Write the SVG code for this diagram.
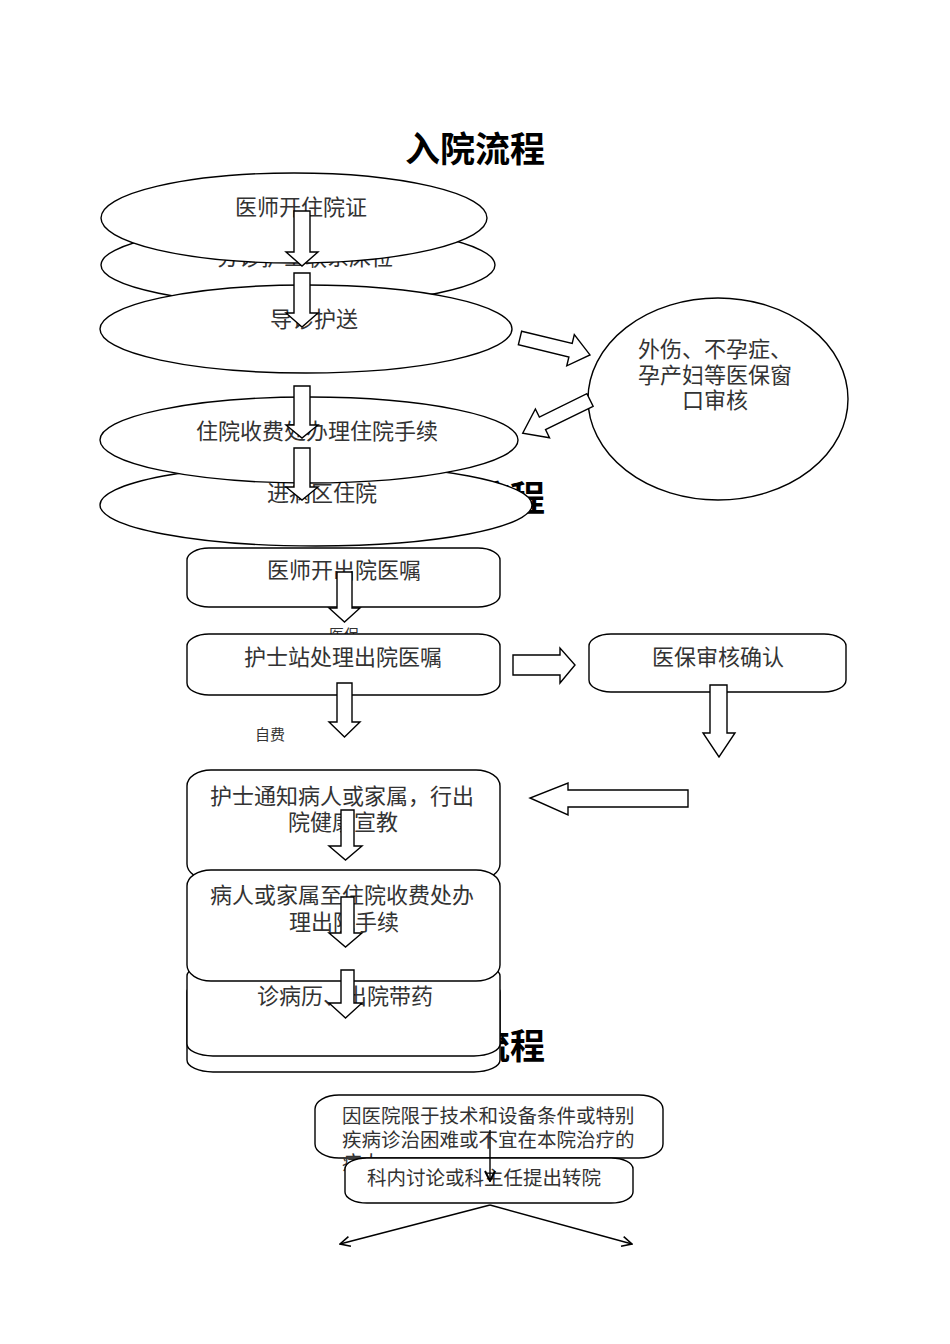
<svg xmlns="http://www.w3.org/2000/svg" width="950" height="1344" viewBox="0 0 950 1344">
<defs>
<style>
.bg{fill:#fff}
.sh{fill:#fff;stroke:#000;stroke-width:1.4}
.ar{fill:#fff;stroke:#000;stroke-width:1.4;stroke-linejoin:miter}
.ln{fill:none;stroke:#000;stroke-width:1.4}
.t{font-family:"Noto Sans CJK SC","Noto Sans",sans-serif;font-size:22px;fill:#333;text-anchor:middle;dominant-baseline:central}
.ts{font-size:19.5px}
.tl{text-anchor:start}
.tn{font-size:15px}
.title{font-family:"Noto Sans CJK SC","Noto Sans",sans-serif;font-size:35px;font-weight:bold;fill:#000;text-anchor:middle;dominant-baseline:central}
</style>
<marker id="chev" viewBox="0 0 12 12" refX="11" refY="6" markerWidth="12" markerHeight="12" markerUnits="userSpaceOnUse" orient="auto">
<path d="M1,1 L11,6 L1,11" fill="none" stroke="#000" stroke-width="1.6"/>
</marker>
<marker id="vee" viewBox="0 0 12 12" refX="11" refY="6" markerWidth="12" markerHeight="12" markerUnits="userSpaceOnUse" orient="auto">
<path d="M1,1 L11,6 L1,11" fill="none" stroke="#000" stroke-width="2"/>
</marker>
</defs>
<rect class="bg" x="0" y="0" width="950" height="1344"/>

<g id="titles">
<text class="title" x="475" y="146">入院流程</text>
<text class="title" x="475" y="495">出院流程</text>
<text class="title" x="475" y="1043">转院流程</text>
</g>

<g id="n-fenzhen">
<ellipse class="sh" cx="298" cy="265" rx="197" ry="40"/>
<text class="t" x="305" y="255">分诊护士联系床位</text>
</g>
<g id="n-yishi-zhuyuanzheng">
<ellipse class="sh" cx="294" cy="218" rx="193" ry="45"/>
<text class="t" x="301" y="205">医师开住院证</text>
</g>
<g id="n-daozhen">
<ellipse class="sh" cx="306" cy="329" rx="206" ry="44"/>
<text class="t" x="314" y="317">导诊护送</text>
</g>
<g id="n-jinbingqu">
<ellipse class="sh" cx="316" cy="505" rx="216" ry="41"/>
<text class="t" x="322" y="491">进病区住院</text>
</g>
<g id="n-shoufei">
<ellipse class="sh" cx="309" cy="440" rx="209" ry="43"/>
<text class="t" x="317" y="429">住院收费处办理住院手续</text>
</g>
<g id="n-yibao-chuangkou">
<ellipse class="sh" cx="718" cy="399" rx="130" ry="101"/>
<text class="t" x="715" y="347">外伤、不孕症、</text>
<text class="t" x="715" y="373">孕产妇等医保窗</text>
<text class="t" x="715" y="398">口审核</text>
</g>

<g id="n-chuyuan-yizhu">
<rect class="sh" x="187" y="548" width="313" height="59" rx="22" ry="12"/>
<text class="t" x="344" y="568">医师开出院医嘱</text>
</g>
<g id="lbl-yibao">
<text class="t tn" x="344" y="633">医保</text>
</g>
<g id="n-hushizhan">
<rect class="sh" x="187" y="634" width="313" height="61" rx="22" ry="12"/>
<text class="t" x="343" y="655">护士站处理出院医嘱</text>
</g>
<g id="lbl-zifei">
<text class="t tn" x="270" y="733">自费</text>
</g>
<g id="n-yibao-queren">
<rect class="sh" x="589" y="634" width="257" height="58" rx="22" ry="12"/>
<text class="t" x="718" y="655">医保审核确认</text>
</g>

<g id="n-back2">
<rect class="sh" x="187" y="980" width="313" height="92" rx="26" ry="12"/>
</g>
<g id="n-menzhen">
<rect class="sh" x="187" y="964" width="313" height="92" rx="26" ry="12"/>
<text class="t" x="345" y="994">诊病历、出院带药</text>
</g>
<g id="n-tongzhi">
<rect class="sh" x="187" y="770" width="313" height="110" rx="24" ry="16"/>
<text class="t" x="342" y="794">护士通知病人或家属，行出</text>
<text class="t" x="343" y="820">院健康宣教</text>
</g>
<g id="n-banli">
<rect class="sh" x="187" y="870" width="313" height="111" rx="24" ry="16"/>
<text class="t" x="342" y="893">病人或家属至住院收费处办</text>
<text class="t" x="344" y="920">理出院手续</text>
</g>

<g id="n-bingren">
<rect class="sh" x="315" y="1095" width="348" height="63" rx="24" ry="14"/>
<text class="t ts tl" x="342" y="1114">因医院限于技术和设备条件或特别</text>
<text class="t ts tl" x="342" y="1138">疾病诊治困难或不宜在本院治疗的</text>
<text class="t ts tl" x="342" y="1161">病人</text>
</g>
<g id="n-keneitaolun">
<rect class="sh" x="345" y="1158" width="288" height="45" rx="22" ry="11"/>
<text class="t ts tl" x="367" y="1176">科内讨论或科主任提出转院</text>
</g>

<g id="connectors">
<polygon class="ar" points="294,211 310,211 310,252 318,252 302,266 286,252 294,252"/>
<polygon class="ar" points="294,273 310,273 310,313 318,313 302,327 286,313 294,313"/>
<polygon class="ar" points="294,386 310,386 310,425 318,425 302,438 286,425 294,425"/>
<polygon class="ar" points="294,448 310,448 310,487 318,487 302,500 286,487 294,487"/>
<polygon class="ar" transform="translate(520,338) rotate(13.6)" points="0,-7 52,-7 52,-16 72,0 52,16 52,7 0,7"/>
<polygon class="ar" transform="translate(590,400) rotate(153.8)" points="0,-7 53,-7 53,-16 75,0 53,16 53,7 0,7"/>
<polygon class="ar" points="337,572 352,572 352,608 360,608 344.5,622 329,608 337,608"/>
<polygon class="ar" points="337,683 352,683 352,722 360,722 344.5,737 329,722 337,722"/>
<polygon class="ar" points="513,655 560,655 560,648 575,665 560,683 560,675 513,675"/>
<polygon class="ar" points="710,685 727,685 727,733 735,733 719,757 703,733 710,733"/>
<polygon class="ar" points="688,790 568,790 568,783 530,798 568,815 568,807 688,807"/>
<polygon class="ar" points="341,810 354,810 354,846 362,846 345.5,860 329,846 341,846"/>
<polygon class="ar" points="341,897 354,897 354,933 362,933 345.5,947 329,933 341,933"/>
<polygon class="ar" points="341,970 354,970 354,1003 362,1003 345.5,1018 329,1003 341,1003"/>
<line class="ln" x1="490" y1="1130" x2="490" y2="1181" marker-end="url(#vee)"/>
<line class="ln" x1="490" y1="1205" x2="340" y2="1244" marker-end="url(#chev)"/>
<line class="ln" x1="490" y1="1205" x2="632" y2="1244" marker-end="url(#chev)"/>
</g>
</svg>
